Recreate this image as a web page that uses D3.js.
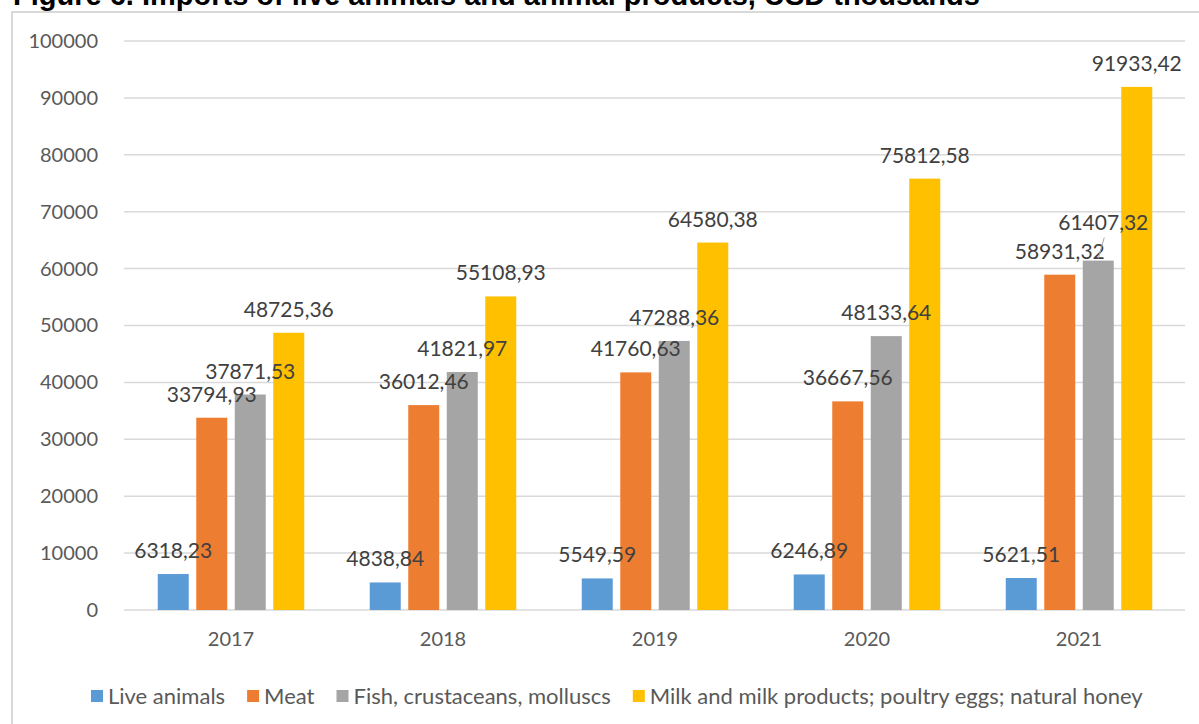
<!DOCTYPE html>
<html>
<head>
<meta charset="utf-8">
<script src="https://cdn.jsdelivr.net/npm/d3@7"></script>
<style>
  body { margin: 0; background: #fff; }
  svg { display: block; font-family: Lato, "Open Sans", sans-serif; }
</style>
</head>
<body>
<div id="chart"></div>
<script>
// chart values
const years = ["2017", "2018", "2019", "2020", "2021"];
const seriesNames = [
    "Live animals",
    "Meat",
    "Fish, crustaceans, molluscs",
    "Milk and milk products; poultry eggs; natural honey"
];
const liveAnimals = [6318.23, 4838.84, 5549.59, 6246.89, 5621.51];
const meat = [33794.93, 36012.46, 41760.63, 36667.56, 58931.32];
const fish = [37871.53, 41821.97, 47288.36, 48133.64, 61407.32];
const milk = [48725.36, 55108.93, 64580.38, 75812.58, 91933.42];
const yTicks = [0, 10000, 20000, 30000, 40000, 50000, 60000, 70000, 80000, 90000, 100000];

const seriesValues = [liveAnimals, meat, fish, milk];
const colors = ["#5b9bd5", "#ed7d31", "#a5a5a5", "#ffc000"];

// one label in the original was moved by hand and got a leader line
const labelNudge = [{ series: 2, year: 4, dx: 5, dy: -15 }];

const W = 1199, H = 724;
const margin = { top: 41, right: 14, bottom: 114, left: 125 };

const svg = d3.select("#chart").append("svg")
    .attr("width", W)
    .attr("height", H);

// title, cut off at the top like in the source
svg.append("text")
    .attr("x", 13)
    .attr("y", 5)
    .attr("font-family", "Arial, 'Liberation Sans', sans-serif")
    .attr("font-weight", "bold")
    .attr("font-size", "29px")
    .attr("fill", "#000")
    .text("Figure 6. Imports of live animals and animal products, USD thousands");

// chart frame
svg.append("rect")
    .attr("x", 12)
    .attr("y", 12)
    .attr("width", W + 20)
    .attr("height", H + 20)
    .attr("fill", "none")
    .attr("stroke", "#d9d9d9")
    .attr("stroke-width", 2);

const x0 = d3.scaleBand()
    .domain(years)
    .range([margin.left, W - margin.right])
    .padding(0);

const x1 = d3.scaleBand()
    .domain(d3.range(seriesNames.length))
    .range([32.75, 179.25])
    .paddingInner(0.195);

const y = d3.scaleLinear()
    .domain([0, 100000])
    .range([H - margin.bottom, margin.top]);

// gridlines
svg.append("g")
    .selectAll("line")
    .data(yTicks)
    .join("line")
    .attr("x1", margin.left - 1)
    .attr("x2", W - margin.right)
    .attr("y1", d => y(d))
    .attr("y2", d => y(d))
    .attr("stroke", "#d9d9d9")
    .attr("stroke-width", 1.5);

// y axis labels
const yAxis = svg.append("g")
    .attr("transform", `translate(${margin.left - 27},0)`)
    .call(d3.axisLeft(y).tickValues(yTicks).tickSize(0).tickPadding(0).tickFormat(d3.format("d")));
yAxis.select(".domain").remove();
yAxis.selectAll("text")
    .attr("font-family", "Lato, sans-serif")
    .attr("font-size", "20px")
    .attr("fill", "#595959");

// x axis labels
const xAxis = svg.append("g")
    .attr("transform", `translate(0,${H - margin.bottom})`)
    .call(d3.axisBottom(x0).tickSize(0).tickPadding(22));
xAxis.select(".domain").remove();
xAxis.selectAll("text")
    .attr("font-family", "Lato, sans-serif")
    .attr("font-size", "20px")
    .attr("fill", "#595959");

// bars
const cells = [];
seriesValues.forEach((vals, s) => {
    vals.forEach((v, i) => cells.push({ s: s, i: i, year: years[i], value: v }));
});

svg.append("g")
    .selectAll("rect")
    .data(cells)
    .join("rect")
    .attr("x", d => x0(d.year) + x1(d.s))
    .attr("y", d => y(d.value))
    .attr("width", x1.bandwidth())
    .attr("height", d => y(0) - y(d.value))
    .attr("fill", d => colors[d.s]);

// data labels
const fmt = v => d3.format(".2f")(v).replace(".", ",");
const nudgeOf = d => labelNudge.find(n => n.series === d.s && n.year === d.i) || { dx: 0, dy: 0 };

const labels = svg.append("g");
cells.forEach(d => {
    const n = nudgeOf(d);
    const cx = x0(d.year) + x1(d.s) + x1.bandwidth() / 2;
    const top = y(d.value);
    if (n.dy !== 0) {
        labels.append("line")
            .attr("x1", cx + n.dx + 1)
            .attr("y1", top + n.dy - 8)
            .attr("x2", cx)
            .attr("y2", top - 2)
            .attr("stroke", "#a6a6a6")
            .attr("stroke-width", 1);
    }
    labels.append("text")
        .attr("x", cx + n.dx)
        .attr("y", top - 16 + n.dy)
        .attr("text-anchor", "middle")
        .attr("font-size", "21px")
        .attr("fill", "#404040")
        .text(fmt(d.value));
});

// legend
const legend = svg.append("g").attr("transform", "translate(91,696)");
let lx = 0;
seriesNames.forEach((name, s) => {
    legend.append("rect")
        .attr("x", lx)
        .attr("y", -6)
        .attr("width", 12)
        .attr("height", 12)
        .attr("fill", colors[s]);
    const t = legend.append("text")
        .attr("x", lx + 17)
        .attr("y", 0)
        .attr("dy", "0.35em")
        .attr("font-size", "22px")
        .attr("fill", "#595959")
        .text(name);
    lx += 17 + t.node().getComputedTextLength() + 22;
});
</script>
</body>
</html>
